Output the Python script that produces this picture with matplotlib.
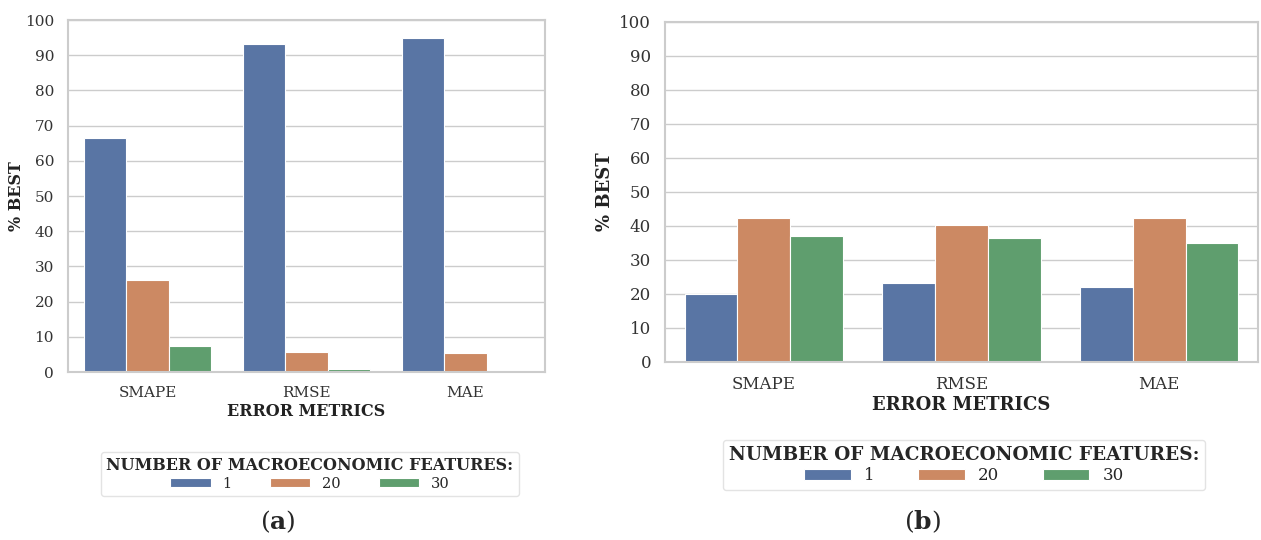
import matplotlib.pyplot as plt
import numpy as np
import seaborn as sns

metrics = ['SMAPE', 'RMSE', 'MAE']
features = ['1', '20', '30']

# panel (a)
a_1 = [66.5, 93.2, 94.8]
a_20 = [26.2, 5.8, 5.3]
a_30 = [7.4, 0.8, 0.0]

# panel (b)
b_1 = [19.9, 23.1, 22.1]
b_20 = [42.4, 40.2, 42.4]
b_30 = [37.2, 36.6, 35.0]

sns.set_theme(style='whitegrid')
plt.rcParams['font.family'] = ['DejaVu Serif']
plt.rcParams['mathtext.fontset'] = 'dejavuserif'
colors = [sns.desaturate(c, 0.75) for c in sns.color_palette('deep')[:3]]

W, H = 1261, 540
fig = plt.figure(figsize=(W / 100, H / 100), dpi=100)


def panel(rect, series, fs_tick, fs_lab, ypad, leg_xy, fs_leg, fs_title, caption, cap_xy):
    l, t, r, b = rect
    ax = fig.add_axes([l / W, 1 - b / H, (r - l) / W, (b - t) / H])
    x = np.arange(len(metrics))
    w = 0.8 / 3
    for i, vals in enumerate(series):
        ax.bar(x + (i - 1) * w, vals, w, color=colors[i], edgecolor='white',
               linewidth=0.8, label=features[i])
    ax.set_xlim(-0.5, 2.5)
    ax.set_ylim(0, 100)
    ax.set_yticks(range(0, 101, 10))
    ax.set_xticks(x)
    ax.set_xticklabels(metrics)
    ax.tick_params(axis='both', labelsize=fs_tick, colors='#333333', pad=4)
    ax.xaxis.grid(False)
    ax.set_xlabel('ERROR METRICS', fontsize=fs_lab, fontweight='bold', labelpad=2, color='#222222')
    ax.set_ylabel('% BEST', fontsize=fs_lab, fontweight='bold', color='#222222', labelpad=ypad)
    for s in ax.spines.values():
        s.set_color('#cccccc')
        s.set_linewidth(1.5)
    h, lab = ax.get_legend_handles_labels()
    leg = fig.legend(h, lab, loc='center', bbox_to_anchor=(leg_xy[0] / W, 1 - leg_xy[1] / H),
                     ncol=3, title='NUMBER OF MACROECONOMIC FEATURES:', fontsize=fs_leg,
                     title_fontproperties={'weight': 'bold', 'size': fs_title},
                     handlelength=2.8, handleheight=0.6, columnspacing=2.6,
                     frameon=True, borderpad=0.35, labelspacing=0.2)
    leg.get_frame().set_edgecolor('#dddddd')
    fig.text(cap_xy[0] / W, 1 - cap_xy[1] / H, '(' + r'$\mathbf{' + caption + '}$' + ')',
             ha='center', va='center', fontsize=18)
    return ax


panel((68, 20, 545, 372), [a_1, a_20, a_30], 11, 11.5, 0, (310, 474), 10.5, 11.5, 'a', (278, 522))
panel((665, 22, 1258, 362), [b_1, b_20, b_30], 12, 13, 4, (964, 465), 12, 13.3, 'b', (922, 522))

fig.savefig('out.png', dpi=100)
